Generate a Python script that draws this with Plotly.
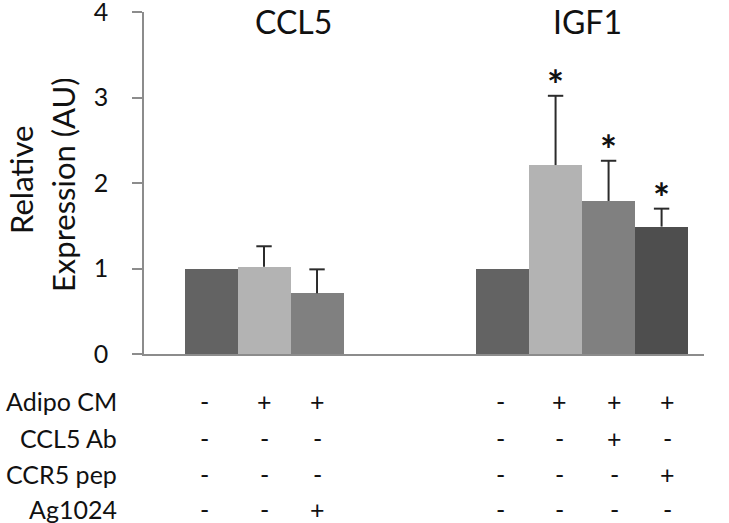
import plotly.graph_objects as go

# ---- data ----
genes = ["CCL5", "IGF1"]
ccl5_values = [1.0, 1.02, 0.71]
ccl5_errors = [0.0, 0.24, 0.28]
ccl5_signif = [False, False, False]
igf1_values = [1.0, 2.21, 1.79, 1.49]
igf1_errors = [0.0, 0.81, 0.47, 0.21]
igf1_signif = [False, True, True, True]

row_labels = ["Adipo CM", "CCL5 Ab", "CCR5 pep", "Ag1024"]
ccl5_signs = [["-", "+", "+"], ["-", "-", "-"], ["-", "-", "-"], ["-", "-", "+"]]
igf1_signs = [["-", "+", "+", "+"], ["-", "-", "+", "-"], ["-", "-", "-", "+"], ["-", "-", "-", "-"]]

y_title_lines = ["Relative", "Expression (AU)"]
y_ticks = [0, 1, 2, 3, 4]

# ---- style ----
FONT = "Lato, 'Open Sans', sans-serif"
TXT = "#111111"
AXIS = "#8c8c8c"
colors_ccl5 = ["#636363", "#b3b3b3", "#808080"]
colors_igf1 = ["#636363", "#b3b3b3", "#808080", "#4e4e4e"]
group_start = {"CCL5": 0.0, "IGF1": 5.5}
title_dx = {"CCL5": 0.55, "IGF1": 0.11}
table_dx = {"CCL5": [-0.12, 0.0, 0.0], "IGF1": [-0.03, 0.08, 0.12, 0.11]}
row_y = [-0.137, -0.246, -0.351, -0.453]
ytitle_pos = [(-0.2196, 0.509), (-0.1446, 0.494)]

groups = [
    ("CCL5", ccl5_values, ccl5_errors, ccl5_signif, ccl5_signs, colors_ccl5),
    ("IGF1", igf1_values, igf1_errors, igf1_signif, igf1_signs, colors_igf1),
]

fig = go.Figure()
annotations = []

for name, vals, errs, sig, signs, cols in groups:
    xs = [group_start[name] + i for i in range(len(vals))]
    fig.add_trace(go.Bar(
        x=xs, y=vals, width=1.0,
        marker=dict(color=cols, line=dict(width=0)),
        showlegend=False, hoverinfo="skip",
    ))
    # upward-only error bars (stem + cap)
    ex, ey, cx, cy = [], [], [], []
    for x, v, e in zip(xs, vals, errs):
        if e > 0:
            ex += [x, x, None]
            ey += [v, v + e, None]
            cx.append(x)
            cy.append(v + e)
    fig.add_trace(go.Scatter(x=ex, y=ey, mode="lines",
                             line=dict(color="#2b2b2b", width=2),
                             showlegend=False, hoverinfo="skip"))
    fig.add_trace(go.Scatter(x=cx, y=cy, mode="markers",
                             marker=dict(symbol="line-ew", size=11,
                                         line=dict(color="#2b2b2b", width=2)),
                             showlegend=False, hoverinfo="skip"))
    # significance stars
    for x, v, e, s in zip(xs, vals, errs, sig):
        if s:
            annotations.append(dict(x=x, y=v + e, xref="x", yref="y", text="<b>*</b>",
                                    showarrow=False, xanchor="center", yanchor="middle",
                                    yshift=11, font=dict(family=FONT, size=40, color=TXT)))
    # gene title
    center = sum(xs) / len(xs) + title_dx[name]
    annotations.append(dict(x=center, y=0.971, xref="x", yref="paper", text=name,
                            showarrow=False, xanchor="center", yanchor="middle",
                            font=dict(family=FONT, size=32, color=TXT)))
    # treatment table
    for r, row in enumerate(signs):
        for i, (x, s) in enumerate(zip(xs, row)):
            annotations.append(dict(x=x + table_dx[name][i], y=row_y[r], xref="x",
                                    yref="paper", text=s, showarrow=False,
                                    xanchor="center", yanchor="middle",
                                    font=dict(family=FONT, size=25, color=TXT)))

for r, lab in enumerate(row_labels):
    annotations.append(dict(x=-0.0446, y=row_y[r], xref="paper", yref="paper", text=lab,
                            showarrow=False, xanchor="right", yanchor="middle",
                            font=dict(family=FONT, size=25, color=TXT)))

# y-axis title (two centred lines)
for line, (px, py) in zip(y_title_lines, ytitle_pos):
    annotations.append(dict(x=px, y=py, xref="paper", yref="paper", text=line,
                            textangle=-90, showarrow=False,
                            xanchor="center", yanchor="middle",
                            font=dict(family=FONT, size=31, color=TXT)))

fig.update_layout(
    width=729, height=523,
    margin=dict(l=144, r=25, t=12, b=169),
    paper_bgcolor="white", plot_bgcolor="white",
    bargap=0,
    annotations=annotations,
    font=dict(family=FONT, color=TXT),
    xaxis=dict(range=[-1.264, 9.30], showgrid=False, zeroline=False,
               showticklabels=False, ticks="", showline=True, automargin=False,
               linecolor=AXIS, linewidth=1.5),
    yaxis=dict(range=[0, 4], tickvals=y_ticks, showgrid=False, zeroline=False,
               showline=True, linecolor=AXIS, linewidth=1.5, automargin=False,
               ticks="outside", ticklen=10, tickcolor=AXIS, tickwidth=1.5,
               ticklabeloverflow="allow", ticklabelstandoff=19,
               tickfont=dict(family=FONT, size=25, color=TXT)),
)

fig.write_html("out.html", config={"displayModeBar": False},
               post_script="document.body.style.margin='0';")
